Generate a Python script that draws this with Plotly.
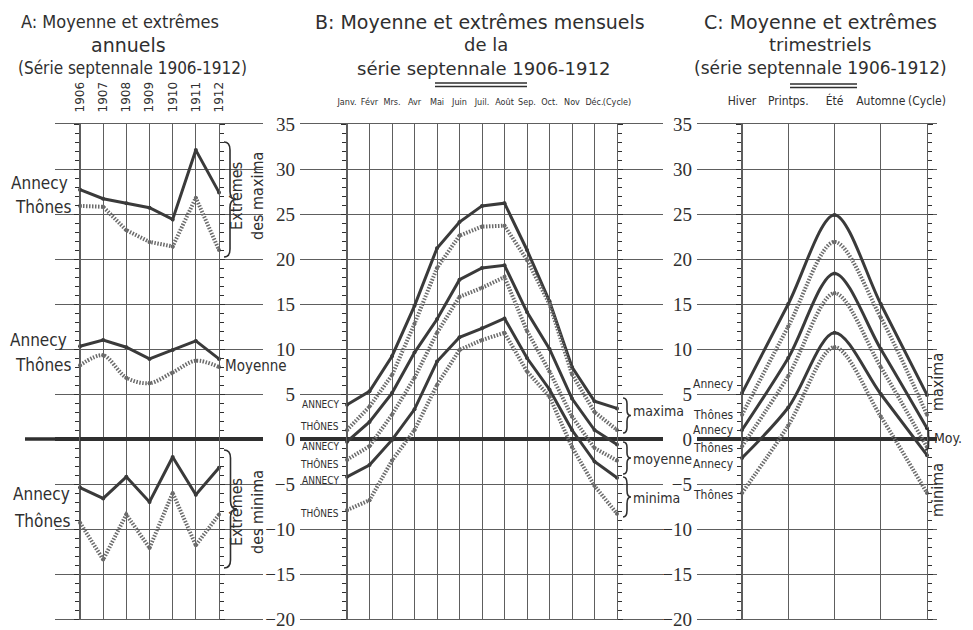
import plotly.graph_objects as go

# the page adds an 8px body margin; the figure is sized and placed so that
# reference pixel p lands on page pixel p
OFF = 8
W, H = 973 - OFF, 630 - OFF

# ---------------- data ----------------
years = [1906, 1907, 1908, 1909, 1910, 1911, 1912]
year_labels = ["1906", "1907", "1908", "1909", "1910", "1911", "1912"]
a_annecy_max = [27.7, 26.7, 26.2, 25.7, 24.4, 32.1, 27.4]
a_thones_max = [25.9, 25.8, 23.2, 21.9, 21.4, 26.8, 21.0]
a_annecy_moy = [10.3, 11.0, 10.2, 8.9, 9.9, 10.9, 8.9]
a_thones_moy = [8.2, 9.3, 6.8, 6.2, 7.4, 8.7, 8.0]
a_annecy_min = [-5.4, -6.6, -4.2, -7.0, -2.0, -6.2, -3.2]
a_thones_min = [-9.3, -13.4, -8.4, -12.1, -6.0, -11.8, -8.4]

months = list(range(13))
month_labels = ["Janv.", "Févr", "Mrs.", "Avr", "Mai", "Juin", "Juil.", "Août",
                "Sep.", "Oct.", "Nov", "Déc.", "(Cycle)"]
b_annecy_max = [3.8, 5.3, 9.2, 14.8, 21.2, 24.1, 25.9, 26.2, 21.0, 15.3, 8.0, 4.2, 3.4]
b_thones_max = [1.0, 3.6, 7.1, 12.8, 19.0, 22.6, 23.6, 23.7, 19.9, 15.0, 7.2, 3.0, 1.0]
b_annecy_moy = [-0.3, 1.9, 5.1, 9.6, 13.3, 17.7, 19.0, 19.3, 14.1, 10.0, 4.5, 1.0, -0.6]
b_thones_moy = [-2.3, -0.8, 2.7, 6.8, 11.8, 15.8, 16.8, 18.0, 12.0, 7.5, 2.5, -1.0, -2.4]
b_annecy_min = [-4.2, -2.9, -0.1, 3.3, 8.6, 11.3, 12.3, 13.4, 9.0, 5.5, 1.0, -2.5, -4.3]
b_thones_min = [-7.9, -6.8, -2.4, 1.0, 6.0, 9.9, 11.0, 11.8, 7.5, 4.7, -0.9, -5.2, -8.3]

seasons = [0, 1, 2, 3, 4]
season_labels = ["Hiver", "Printps.", "Été", "Automne", "(Cycle)"]
c_annecy_max = [5.1, 15.0, 24.9, 15.0, 4.9]
c_thones_max = [2.7, 12.5, 21.9, 13.5, 2.7]
c_annecy_moy = [1.0, 9.0, 18.4, 10.0, 1.2]
c_thones_moy = [-0.8, 7.0, 16.2, 8.0, -0.9]
c_annecy_min = [-2.1, 3.5, 11.8, 5.0, -1.8]
c_thones_min = [-6.0, 1.5, 10.2, 2.5, -6.0]

y_range = [-20, 35]

# ---------------- layout helpers ----------------
def fx(p):
    return (p - OFF) / W

def fy(p):
    return 1 - (p - OFF) / H

Y_TOP, Y_BOT = 124, 619
ydom = [fy(Y_BOT), fy(Y_TOP)]

def xr(dom_px, v0, p0, v1, p1):
    k = (v1 - v0) / (p1 - p0)
    return [v0 + (dom_px[0] - p0) * k, v0 + (dom_px[1] - p0) * k]

# pixel layout of each panel: plot area, first/last vertical line
A_DOM, A_P0, A_P1 = (55, 263), 80, 219
B_DOM, B_P0, B_P1 = (300, 663), 347, 617
C_DOM, C_P0, C_P1 = (697, 937), 742, 927

a_range = xr(A_DOM, years[0], A_P0, years[-1], A_P1)
b_range = xr(B_DOM, months[0], B_P0, months[-1], B_P1)
c_range = xr(C_DOM, seasons[0], C_P0, seasons[-1], C_P1)

GRID = "#5e5e5e"
INK = "#2f2f2f"
SOLID = "#3a3a3a"
DOT = "#6b6b6b"
NUMFONT = "Liberation Serif, DejaVu Serif, serif"
TXTFONT = "DejaVu Sans Condensed, Liberation Sans Narrow, Roboto, sans-serif"
TITLEFONT = "DejaVu Sans, Liberation Sans, sans-serif"

fig = go.Figure()

def add_line(x, y, xa, ya, kind, shape="linear", name=""):
    if kind == "solid":
        line = dict(color=SOLID, width=3, shape=shape)
        marker = dict(size=4, color=SOLID)
    else:
        line = dict(color=DOT, width=4, dash="1.5px,1.5px", shape=shape)
        marker = dict(size=4, color=DOT)
    if shape == "spline":
        line["smoothing"] = 0.9
    fig.add_trace(go.Scatter(x=x, y=y, xaxis=xa, yaxis=ya, mode="lines+markers",
                             line=line, marker=marker, name=name, cliponaxis=False,
                             showlegend=False, hoverinfo="x+y+name"))

# Each panel has an outer frame (grid, numbers) and an inner graduated frame
# spanning first..last category; both share the same scale on the page.
# Annecy curves are drawn in the outer frame, Thônes curves in the inner frame.
# Panel A: outer (x, y), inner (x5, y5)
add_line(years, a_annecy_max, "x", "y", "solid", name="Annecy max")
add_line(years, a_thones_max, "x5", "y5", "dot", name="Thônes max")
add_line(years, a_annecy_moy, "x", "y", "solid", name="Annecy moyenne")
add_line(years, a_thones_moy, "x5", "y5", "dot", "spline", name="Thônes moyenne")
add_line(years, a_annecy_min, "x", "y", "solid", name="Annecy min")
add_line(years, a_thones_min, "x5", "y5", "dot", name="Thônes min")
# Panel B: outer (x2, y2), inner (x6, y6)
add_line(months, b_annecy_max, "x2", "y2", "solid", name="Annecy max")
add_line(months, b_thones_max, "x6", "y6", "dot", name="Thônes max")
add_line(months, b_annecy_moy, "x2", "y2", "solid", name="Annecy moyenne")
add_line(months, b_thones_moy, "x6", "y6", "dot", name="Thônes moyenne")
add_line(months, b_annecy_min, "x2", "y2", "solid", name="Annecy min")
add_line(months, b_thones_min, "x6", "y6", "dot", name="Thônes min")
# Panel C: outer (x3, y3), inner (x7, y7)
add_line(seasons, c_annecy_max, "x3", "y3", "solid", "spline", name="Annecy max")
add_line(seasons, c_thones_max, "x7", "y7", "dot", "spline", name="Thônes max")
add_line(seasons, c_annecy_moy, "x3", "y3", "solid", "spline", name="Annecy moyenne")
add_line(seasons, c_thones_moy, "x7", "y7", "dot", "spline", name="Thônes moyenne")
add_line(seasons, c_annecy_min, "x3", "y3", "solid", "spline", name="Annecy min")
add_line(seasons, c_thones_min, "x7", "y7", "dot", "spline", name="Thônes min")

def xaxis(dom, rng, vals, text, angle, fsize, standoff, font=TXTFONT, color=INK):
    return dict(domain=[fx(dom[0]), fx(dom[1])], range=rng, tickmode="array",
                tickvals=vals, ticktext=text, side="top", tickangle=angle,
                ticks="", showgrid=True, gridcolor=GRID, gridwidth=1.3,
                zeroline=False, showline=True, mirror=True, linecolor=GRID,
                linewidth=1.3, tickfont=dict(family=font, size=fsize, color=color),
                ticklabelstandoff=standoff, automargin=False, fixedrange=True)

def yaxis(anchor, labels, side="left"):
    return dict(domain=ydom, range=y_range, anchor=anchor, dtick=5, tick0=0,
                showgrid=True, gridcolor=GRID, gridwidth=1.3, zeroline=True,
                zerolinecolor=INK, zerolinewidth=3.5, showline=False,
                showticklabels=labels, side=side, ticks="",
                tickfont=dict(family=NUMFONT, size=19, color=INK),
                ticklabelstandoff=4, automargin=False, fixedrange=True)

layout = dict(
    width=W, height=H, margin=dict(l=0, r=0, t=0, b=0, autoexpand=False),
    paper_bgcolor="white", plot_bgcolor="rgba(0,0,0,0)", showlegend=False,
    xaxis=xaxis(A_DOM, a_range, years, year_labels, -90, 12, 8,
                font="DejaVu Sans, sans-serif"),
    xaxis2=xaxis(B_DOM, b_range, months, month_labels, 0, 9, 14),
    xaxis3=xaxis(C_DOM, c_range, seasons, season_labels, 0, 12, 13),
    yaxis=yaxis("x", False),
    yaxis2=yaxis("x2", True),
    yaxis3=yaxis("x3", True),
)
layout["xaxis"]["anchor"] = "y"
layout["xaxis2"]["anchor"] = "y2"
layout["xaxis3"]["anchor"] = "y3"

# right-hand number column of panel C
layout["yaxis4"] = dict(domain=ydom, range=y_range, overlaying="y3", anchor="x3",
                        side="right", dtick=5, tick0=0, showgrid=False, zeroline=False,
                        ticks="", tickfont=dict(family=NUMFONT, size=19, color=INK),
                        ticklabelstandoff=6, automargin=False, fixedrange=True)

# inner graduated frames (minor ticks every degree on both outer vertical lines)
frames = [
    (5, A_P0, A_P1, [years[0], years[-1]]),
    (6, B_P0, B_P1, [months[0], months[-1]]),
    (7, C_P0, C_P1, [seasons[0], seasons[-1]]),
]
for n, p0, p1, rng in frames:
    layout["xaxis%d" % n] = dict(domain=[fx(p0), fx(p1)], range=rng,
                                 anchor="y%d" % n, showgrid=False, zeroline=False,
                                 showline=False, showticklabels=False, ticks="",
                                 automargin=False, fixedrange=True)
    layout["yaxis%d" % n] = dict(
        domain=ydom, range=y_range, anchor="x%d" % n, side="left",
        showgrid=False, zeroline=False, showticklabels=False,
        showline=True, linecolor=GRID, linewidth=1.3, mirror="allticks",
        ticks="outside", ticklen=5, tickwidth=1.4, tickcolor=INK, dtick=5, tick0=0,
        minor=dict(ticks="outside", dtick=1, ticklen=4, tickwidth=1.4, tickcolor=INK),
        automargin=False, fixedrange=True)

fig.update_layout(**layout)

# ---------------- text ----------------
ann = []

def text(t, x, y, size, xanchor="center", font=TXTFONT, angle=0, color=INK):
    ann.append(dict(text=t, x=fx(x), y=fy(y), xref="paper", yref="paper",
                    xanchor=xanchor, yanchor="middle", showarrow=False,
                    textangle=angle, font=dict(family=font, size=size, color=color)))

# titles
text("A: Moyenne et extrêmes", 120, 22, 18, font=TXTFONT)
text("annuels", 128, 45, 19, font=TITLEFONT)
text("(Série septennale 1906-1912)", 133, 68, 17, font=TXTFONT)
text("B: Moyenne et extrêmes mensuels", 480, 22, 19, font=TITLEFONT)
text("de la", 486, 45, 18, font=TITLEFONT)
text("série septennale 1906-1912", 483, 68, 18, font=TITLEFONT)
text("C: Moyenne et extrêmes", 820, 22, 19, font=TITLEFONT)
text("trimestriels", 820, 45, 18, font=TITLEFONT)
text("(série septennale 1906-1912)", 820, 68, 17, font=TITLEFONT)

# panel A labels
for t, x, y in [("Annecy", 70, 183), ("Thônes", 73, 207), ("Annecy", 69, 340),
                ("Thônes", 73, 365), ("Annecy", 72, 494), ("Thônes", 72, 521)]:
    text(t, x, y, 17, xanchor="right")
text("Moyenne", 223, 366, 15, xanchor="left")
text("Extrêmes<br>des maxima", 247, 196, 16, angle=-90)
text("Extrêmes<br>des minima", 247, 512, 16, angle=-90)

# panel B labels
for t, y in [("ANNECY", 405), ("THÔNES", 426), ("ANNECY", 446),
             ("THÔNES", 464), ("ANNECY", 481), ("THÔNES", 513)]:
    text(t, 341, y, 10, xanchor="right")
text("maxima", 631, 411, 14, xanchor="left")
text("moyenne", 631, 459, 14, xanchor="left")
text("minima", 631, 498, 14, xanchor="left")

# panel C labels
for t, y in [("Annecy", 384), ("Thônes", 415), ("Annecy", 430),
             ("Thônes", 448), ("Annecy", 464), ("Thônes", 495)]:
    text(t, 736, y, 12, xanchor="right")
text("maxima", 937, 382, 16, angle=-90)
text("Moy.", 932, 438, 14, xanchor="left")
text("minima", 937, 490, 16, angle=-90)

fig.update_layout(annotations=ann)

# ---------------- braces, underlines, zero-line extension ----------------
def brace(x, top, bot, w):
    mid = (top + bot) / 2
    c = min(8, (bot - top) / 6)
    pts = [
        ("M", x, top),
        ("Q", x + w / 2, top, x + w / 2, top + c),
        ("L", x + w / 2, mid - c),
        ("Q", x + w / 2, mid, x + w, mid),
        ("Q", x + w / 2, mid, x + w / 2, mid + c),
        ("L", x + w / 2, bot - c),
        ("Q", x + w / 2, bot, x, bot),
    ]
    s = ""
    for p in pts:
        cmd, coords = p[0], p[1:]
        xy = []
        for i in range(0, len(coords), 2):
            xy.append("%.5f,%.5f" % (fx(coords[i]), fy(coords[i + 1])))
        s += cmd + " " + " ".join(xy) + " "
    return dict(type="path", path=s.strip(), xref="paper", yref="paper",
                line=dict(color=INK, width=1.6))

shapes = [
    brace(224, 142, 257, 12),
    brace(224, 450, 568, 13),
    brace(623, 398, 433, 8),
    brace(623, 442, 474, 8),
    brace(623, 477, 517, 8),
    brace(925, 428, 450, 7),
]
for y0 in (83, 86.5):
    shapes.append(dict(type="line", xref="paper", yref="paper",
                       x0=fx(435), x1=fx(527), y0=fy(y0), y1=fy(y0),
                       line=dict(color=INK, width=1.3)))
for y0 in (84, 87.5):
    shapes.append(dict(type="line", xref="paper", yref="paper",
                       x0=fx(790), x1=fx(857), y0=fy(y0), y1=fy(y0),
                       line=dict(color=INK, width=1.3)))
# the heavy zero line of panel A runs further left than its grid
shapes.append(dict(type="line", xref="paper", yref="y", x0=fx(25), x1=fx(A_DOM[0]),
                   y0=0, y1=0, line=dict(color=INK, width=3.5)))
fig.update_layout(shapes=shapes)

fig.write_html("out.html")
